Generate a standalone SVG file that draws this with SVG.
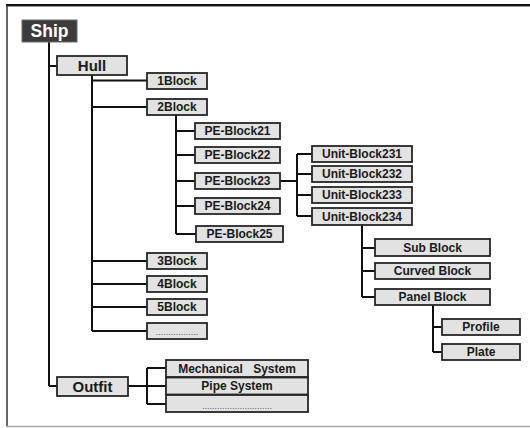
<svg xmlns="http://www.w3.org/2000/svg" width="530" height="428" viewBox="0 0 530 428">
<style>
.box{fill:#e2e2e2;stroke:#262626;stroke-width:1.8}
.ship{fill:#3b3b3b;stroke:#6a6a6a;stroke-width:1}
.t{font-family:"Liberation Sans",Arial,sans-serif;font-weight:bold;font-size:12px;fill:#1a1a1a;text-anchor:middle;dominant-baseline:central}
.big{font-size:15px}
.st{font-size:17.5px;fill:#ffffff}
.dots{font-size:9px;fill:#555;font-weight:normal}
.c{fill:none;stroke:#111;stroke-width:2}
</style>
<rect x="0" y="0" width="530" height="428" fill="#ffffff"/>
<g id="frame">
<line x1="6" y1="5" x2="530" y2="5" stroke="#111" stroke-width="2"/>
<line x1="6" y1="6.5" x2="530" y2="6.5" stroke="#999" stroke-width="1"/>
<line x1="7" y1="5" x2="7" y2="427" stroke="#333" stroke-width="1.5"/>
<line x1="6" y1="426.5" x2="530" y2="426.5" stroke="#aaa" stroke-width="1.5"/>
</g>
<g id="connectors" class="c">
<path d="M49 42V386M49 66H57M49 386H57"/>
<path d="M92 75V331M92 80.5H147M92 107H147M92 261H147M92 284H147M92 307H147M92 331H147"/>
<path d="M176 115V234M176 131H195M176 155H195M176 181H195M176 206H195M176 234H196"/>
<path d="M280 181H297M297 154V216M297 154H312M297 174H312M297 195H312M297 216H312"/>
<path d="M362 225V297M362 248H375M362 271H375M362 297H375"/>
<path d="M433 305V352M433 327H442M433 352H442"/>
<path d="M128 386H147M147 368V404M147 368H166M147 386H166M147 404H166"/>
</g>
<g id="ship"><rect class="ship" x="22" y="20" width="55" height="22"/><text class="t st" x="49.5" y="31">Ship</text></g>
<g id="hull"><rect class="box" x="57" y="56" width="70" height="19"/><text class="t big" x="92" y="65.5">Hull</text></g>
<g id="b1"><rect class="box" x="147" y="73" width="60" height="16"/><text class="t" x="177" y="81">1Block</text></g>
<g id="b2"><rect class="box" x="147" y="99" width="60" height="16"/><text class="t" x="177" y="107">2Block</text></g>
<g id="b3"><rect class="box" x="147" y="253" width="60" height="16"/><text class="t" x="177" y="261">3Block</text></g>
<g id="b4"><rect class="box" x="147" y="276" width="60" height="16"/><text class="t" x="177" y="284">4Block</text></g>
<g id="b5"><rect class="box" x="147" y="299" width="60" height="16"/><text class="t" x="177" y="307">5Block</text></g>
<g id="bdots"><rect class="box" x="147" y="323" width="60" height="16"/><text class="t dots" x="177" y="332">.................</text></g>
<g id="pe21"><rect class="box" x="195" y="123" width="85" height="16"/><text class="t" x="237.5" y="131">PE-Block21</text></g>
<g id="pe22"><rect class="box" x="195" y="147" width="85" height="16"/><text class="t" x="237.5" y="155">PE-Block22</text></g>
<g id="pe23"><rect class="box" x="195" y="173" width="85" height="16"/><text class="t" x="237.5" y="181">PE-Block23</text></g>
<g id="pe24"><rect class="box" x="195" y="198" width="85" height="16"/><text class="t" x="237.5" y="206">PE-Block24</text></g>
<g id="pe25"><rect class="box" x="196" y="226" width="87" height="16"/><text class="t" x="239.5" y="234">PE-Block25</text></g>
<g id="u231"><rect class="box" x="312" y="146" width="100" height="16"/><text class="t" x="362" y="154">Unit-Block231</text></g>
<g id="u232"><rect class="box" x="312" y="166" width="100" height="16"/><text class="t" x="362" y="174">Unit-Block232</text></g>
<g id="u233"><rect class="box" x="312" y="187" width="100" height="16"/><text class="t" x="362" y="195">Unit-Block233</text></g>
<g id="u234"><rect class="box" x="312" y="208" width="100" height="17"/><text class="t" x="362" y="216.5">Unit-Block234</text></g>
<g id="sub"><rect class="box" x="375" y="239" width="115" height="17"/><text class="t" x="432.5" y="247.5">Sub Block</text></g>
<g id="curved"><rect class="box" x="375" y="263" width="115" height="16"/><text class="t" x="432.5" y="271">Curved Block</text></g>
<g id="panel"><rect class="box" x="375" y="289" width="115" height="16"/><text class="t" x="432.5" y="297">Panel Block</text></g>
<g id="profile"><rect class="box" x="442" y="319" width="78" height="16"/><text class="t" x="481" y="327">Profile</text></g>
<g id="plate"><rect class="box" x="442" y="344" width="78" height="16"/><text class="t" x="481" y="352">Plate</text></g>
<g id="outfit"><rect class="box" x="57" y="377" width="71" height="19"/><text class="t big" x="92.5" y="386.5">Outfit</text></g>
<g id="mech"><rect class="box" x="166" y="360" width="142" height="17"/><text class="t" x="237" y="368.5" word-spacing="7">Mechanical System</text></g>
<g id="pipe"><rect class="box" x="166" y="377.5" width="142" height="17"/><text class="t" x="237" y="386">Pipe System</text></g>
<g id="odots"><rect class="box" x="166" y="395" width="142" height="17"/><text class="t dots" x="237" y="406">............................</text></g>
</svg>
